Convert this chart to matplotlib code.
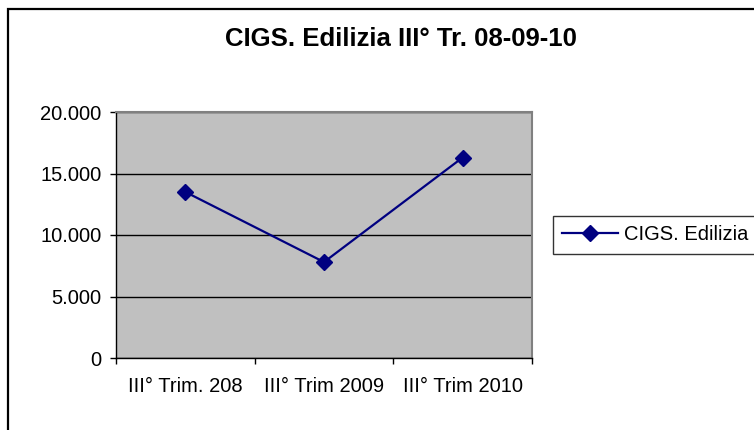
import matplotlib
matplotlib.use("Agg")
import matplotlib.pyplot as plt
from matplotlib.ticker import FuncFormatter, FixedLocator
from matplotlib.patches import Rectangle

categories = ["III° Trim. 208", "III° Trim 2009", "III° Trim 2010"]
values = [13500, 7800, 16300]
series_name = "CIGS. Edilizia"
title = "CIGS. Edilizia III° Tr. 08-09-10"
y_ticks = [0, 5000, 10000, 15000, 20000]

plt.rcParams['font.family'] = ['Liberation Sans', 'DejaVu Sans']

W, H = 754, 430
fig = plt.figure(figsize=(W / 100, H / 100), dpi=100)
fig.patch.set_facecolor('white')

# outer chart frame
fig.patches.append(Rectangle((8 / W, -0.1), 1.2, 1 - 9 / H + 0.1, transform=fig.transFigure,
                             fill=False, edgecolor='black', linewidth=1.6, zorder=0))

ax = fig.add_axes([116 / W, 1 - 358 / H, (532 - 116) / W, (358 - 112) / H])
ax.set_facecolor('#C0C0C0')

x = list(range(len(categories)))
ax.plot(x, values, color='#000080', linewidth=1.6, marker='D', markersize=8,
        markerfacecolor='#000080', markeredgecolor='#000080', label=series_name, zorder=3)

ax.set_xlim(-0.5, len(categories) - 0.5)
ax.set_ylim(0, 20000)
ax.yaxis.set_major_locator(FixedLocator(y_ticks))
ax.yaxis.set_major_formatter(FuncFormatter(lambda v, p: f"{int(v):,}".replace(",", ".")))
ax.grid(axis='y', color='black', linewidth=1.0)
ax.set_axisbelow(True)

ax.set_xticks(x)
ax.set_xticklabels(categories)
ax.set_xticks([i - 0.5 for i in range(len(categories) + 1)], minor=True)
ax.tick_params(axis='x', which='major', length=0, pad=14, labelsize=14.5)
ax.tick_params(axis='x', which='minor', length=4.5, width=1, direction='out', color='black')
ax.tick_params(axis='y', length=4.5, width=1, direction='out', pad=6, labelsize=14.5)

for s in ['top', 'right']:
    ax.spines[s].set_color('#808080')
    ax.spines[s].set_linewidth(1.5)
for s in ['left', 'bottom']:
    ax.spines[s].set_color('black')
    ax.spines[s].set_linewidth(1.0)

fig.text(401 / W, 1 - 39 / H, title, ha='center', va='center', fontsize=18.5, fontweight='bold')

leg = fig.legend(loc='center left', bbox_to_anchor=(553 / W, 1 - 235 / H), frameon=True,
                 fontsize=14.5, handlelength=2.8, handletextpad=0.3, borderpad=0.45,
                 borderaxespad=0, fancybox=False)
leg.get_frame().set_edgecolor('black')
leg.get_frame().set_linewidth(1.0)

fig.savefig('out.png', dpi=100)
